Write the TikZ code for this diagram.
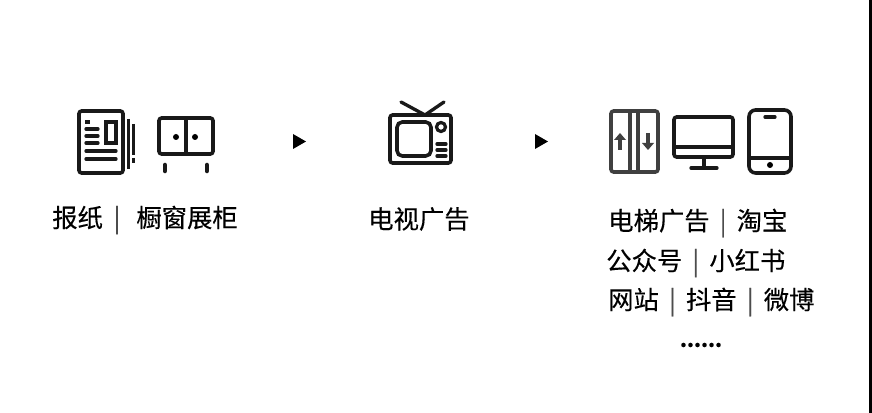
\documentclass[tikz,border=0pt]{standalone}
\usepackage{fontspec}
\setmainfont[FakeBold=0.25]{Noto Sans CJK SC}
\newcommand{\sepbar}{\hspace{7.6pt}{\color{black!70}|}\hspace{7.6pt}}
\tikzset{
  label/.style={anchor=west, inner sep=0pt, font=\fontsize{19}{19}\selectfont, text=black},
  icon/.style={draw=black!90, line width=2.7pt, rounded corners=2pt},
  bar/.style={draw=black!90, line width=2.5pt, line cap=round},
  head/.style={fill=black}
}
\begin{document}
\begin{tikzpicture}[x=0.75pt, y=-0.75pt]
\useasboundingbox (0,0) rectangle (872,413);
\fill (869,0) rectangle (872,413);
% newspaper
\draw [icon] (79,111) rectangle (123,173);
\draw [icon, line width=2.4pt, rounded corners=0pt] (106,122) rectangle (116,143);
\draw [bar, line cap=butt] (85,122)--(90,122);
\draw [bar] (86,129)--(98,129);
\draw [bar] (86,136)--(98,136);
\draw [bar] (86,143)--(98,143);
\draw [bar] (86,151)--(116,151);
\draw [bar] (86,159)--(116,159);
\draw [bar, line cap=butt, line width=2.3pt] (128.5,119)--(128.5,169);
\draw [bar, line cap=butt, line width=2.3pt] (133.5,124)--(133.5,155);
\draw [bar, line cap=butt, line width=2.3pt] (133.5,158)--(133.5,163);
% cabinet
\draw [icon] (159,118) rectangle (213,154);
\draw [bar] (186,118)--(186,154);
\fill (176,137) circle (3);
\fill (195,137) circle (3);
\draw [bar, line width=3.4pt] (165,165)--(165,171);
\draw [bar, line width=3.4pt] (207,165)--(207,171);
% tv
\draw [icon] (390,115) rectangle (451,163);
\draw [icon, rounded corners=4pt] (397,122) rectangle (431,156);
\draw [draw=black!90, line width=2.4pt] (441,127) circle (4.5);
\draw [bar] (437,144)--(446,144);
\draw [bar] (437,150)--(446,150);
\draw [bar] (437,156)--(446,156);
\draw [bar] (401,102)--(425,115)--(444,102);
% lift
\draw [icon, draw=black!75] (611,111) rectangle (658,172);
\draw [bar, draw=black!75] (630,111)--(630,172);
\draw [bar, draw=black!75] (638,111)--(638,172);
\draw [bar, draw=black!75, line cap=butt] (620,139)--(620,150);
\fill [black!75] (614,140)--(620,133)--(626,140)--cycle;
\draw [bar, draw=black!75, line cap=butt] (648,133)--(648,144);
\fill [black!75] (642,143)--(648,150)--(654,143)--cycle;
% monitor
\draw [icon] (674,117) rectangle (733,157);
\draw [bar] (674,147)--(733,147);
\draw [bar] (704,157)--(704,168);
\draw [bar] (691,168)--(717,168);
% phone
\draw [icon, rounded corners=5pt] (749,110) rectangle (791,173);
\draw [bar] (765,117)--(775,117);
\draw [bar] (749,158)--(791,158);
\fill (770,165) circle (3);
% arrows
\fill [head] (293,134)--(306,141.5)--(293,149)--cycle;
\fill [head] (535,134)--(548,141.5)--(535,149)--cycle;
% text
\node [label] (print) at (52,220) {报纸\hspace{8pt}{\color{black!70}|}\hspace{12pt}橱窗展柜};
\node [label] (tv) at (368,219) {电视广告};
\node [label] (rowa) at (608,223) {电梯广告\sepbar 淘宝};
\node [label] (rowb) at (606,263) {公众号\sepbar 小红书};
\node [label] (rowc) at (608,302) {网站\sepbar 抖音\sepbar 微博};
\node [label, anchor=center, font=\fontsize{15}{15}\selectfont\bfseries] (more) at (701,345) {......};
\end{tikzpicture}
\end{document}
